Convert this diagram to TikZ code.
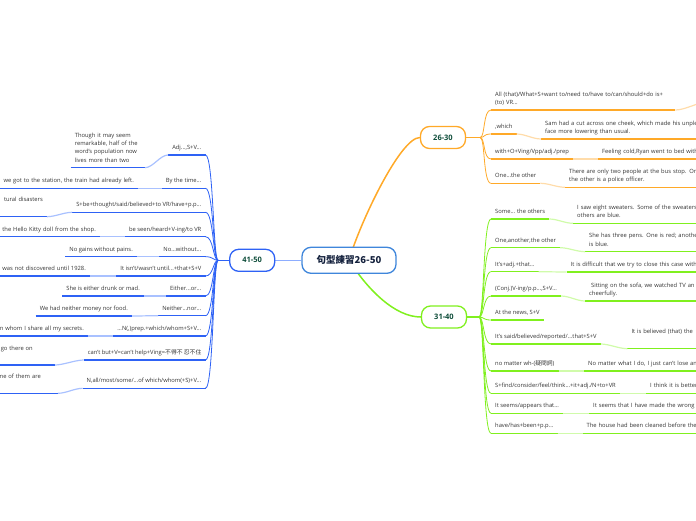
\documentclass[tikz,border=0pt]{standalone}
\usepackage{fontspec}
\setmainfont{Open Sans}
\newfontfamily\cjk{Noto Sans CJK TC}
\usepackage{xcolor}
\usetikzlibrary{positioning, backgrounds}
\definecolor{mmblue}{HTML}{2E62F5}
\definecolor{mmbluelt}{HTML}{A9C1FF}
\definecolor{mmbluemid}{HTML}{8DADFF}
\definecolor{mmorange}{HTML}{FFA928}
\definecolor{mmorangelt}{HTML}{FFDCAA}
\definecolor{mmgreen}{HTML}{80F01E}
\definecolor{mmgreenlt}{HTML}{D0FBAA}
\definecolor{ctrbd}{HTML}{3F86DB}
\definecolor{ctrtxt}{HTML}{14213D}
\definecolor{subtxt}{HTML}{0E4D3A}
\definecolor{leaftxt}{HTML}{333333}
\newcommand{\leaffont}{\fontsize{5.8pt}{8.4pt}\selectfont}
\tikzset{
  root/.style={rectangle, rounded corners=9pt, draw=ctrbd, line width=1.3pt, fill=white,
    text=ctrtxt, font=\cjk\bfseries\fontsize{9.5pt}{11pt}\selectfont,
    minimum width=94pt, minimum height=26pt, inner sep=0pt},
  branch/.style={rectangle, rounded corners=9pt, draw=#1, line width=1.3pt, fill=white,
    text=subtxt, font=\bfseries\fontsize{7.5pt}{9pt}\selectfont,
    minimum width=45pt, minimum height=22pt, inner sep=0pt},
  topic/.style={inner xsep=4pt, inner ysep=3.2pt, text depth=2pt, font=\leaffont, text=leaftxt,
    append after command={(\tikzlastnode.south west) edge[draw=#1, line width=1.5pt] (\tikzlastnode.south east)}},
  topicL/.style={topic=#1, anchor=south east},
  topicR/.style={topic=#1, anchor=south west},
  cutL/.style={text width=220pt, align=right},
  cutR/.style={text width=220pt, align=left},
  twolines/.style={text depth=10.4pt},
  fourlines/.style={text depth=27.2pt},
  deep/.style={text depth=11.5pt},
  trunk/.style={draw=#1, line width=1.5pt},
  stub/.style={draw=#1, line width=1.6pt},
  fork/.style={draw=#1, line width=0.8pt},
  link/.style={draw=#1, line width=1.2pt},
}

\begin{document}
\begin{tikzpicture}[x=1pt, y=-1pt, node distance=26pt]
  \useasboundingbox (0,0) rectangle (696,520);
  \node[root] (ctr) at (349,260.3) {句型練習26-50};
  \node[branch=mmblue, left=of ctr] (n41) {41-50};
  \node[branch=mmorange] (n26) at (443,137.5) {26-30};
  \node[branch=mmgreen] (n31) at (444,317) {31-40};
  \path (n41.west) ++(-11,0) coordinate (j41);
  \path (n26.east) ++(14,0) coordinate (j26);
  \path (n31.east) ++(12,0) coordinate (j31);

  \node[topicL=mmblue] (L1) at (205.5,155) {Adj...,S+V...};
  \node[topicL=mmblue] (L2) at (205.5,188.3) {By the time...};
  \node[topicL=mmblue] (L3) at (205.5,212.3) {S+be+thought/said/believed+to VR/have+p.p...};
  \node[topicL=mmblue] (L4) at (205.5,236.7) {be seen/heard+V-ing/to VR};
  \node[topicL=mmblue] (L5) at (205.5,256.7) {No...without...};
  \node[topicL=mmblue] (L6) at (205.5,276) {It isn't/wasn't until...+that+S+V};
  \node[topicL=mmblue] (L7) at (205.5,296) {Either...or...};
  \node[topicL=mmblue] (L8) at (205.5,315.7) {Neither...nor...};
  \node[topicL=mmblue] (L9) at (205.5,336) {...N(,)prep.+which/whom+S+V...};
  \node[topicL=mmblue] (L10) at (205.5,360) {can't but+V=can't help+Ving={\cjk 不得不 忍不住}};
  \node[topicL=mmblue] (L11) at (205.5,388.3) {N,all/most/some/...of which/whom(+S)+V...};

  \node[topicL=mmblue, text width=66pt, align=left, fourlines] (C1) at (145,167.7) {Though it may seem\\remarkable, half of the\\word's population now\\lives more than two};
  \node[topicL=mmblue, cutL] (C2) at (138,188.3) {we got to the station, the train had already left.};
  \node[topicL=mmblue, cutL, deep] (C3) at (47,216.7) {tural disasters};
  \node[topicL=mmblue, cutL] (C4) at (100,236.7) {l the Hello Kitty doll from the shop.};
  \node[topicL=mmblue] (C5) at (137,256.7) {No gains without pains.};
  \node[topicL=mmblue, cutL] (C6) at (90,276) {was not discovered until 1928.};
  \node[topicL=mmblue] (C7) at (144,296) {She is either drunk or mad.};
  \node[topicL=mmblue] (C8) at (132,316) {We had neither money nor food.};
  \node[topicL=mmblue, cutL] (C9) at (88,336) {n whom I share all my secrets.};
  \node[topicL=mmblue, cutL, deep] (C10) at (55,365) {go there on\hspace*{18pt}};
  \node[topicL=mmblue, cutL, deep] (C11) at (58,393.3) {me of them are\hspace*{13pt}};

  \node[topicR=mmorange, text width=176pt, align=left, twolines] (R1) at (491,110) {All (that)/What+S+want to/need to/have to/can/should+do is+\\(to) VR...};
  \node[topicR=mmorange] (R2) at (491,134) {,which};
  \node[topicR=mmorange] (R3) at (491,159) {with+O+Ving/Vpp/adj./prep};
  \node[topicR=mmorange] (R4) at (491,183.3) {One...the other};
  \coordinate (D1) at (708,102);
  \node[topicR=mmorange, cutR, twolines] (D2) at (541,139) {Sam had a cut across one cheek, which made his unple\\face more lowering than usual.};
  \node[topicR=mmorange, cutR] (D3) at (598,159) {Feeling cold,Ryan went to bed with};
  \node[topicR=mmorange, cutR, twolines] (D4) at (565,187.3) {There are only two people at the bus stop. One\\the other is a police officer.};

  \node[topicR=mmgreen] (G1) at (491,219) {Some... the others};
  \node[topicR=mmgreen] (G2) at (491,247.7) {One,another,the other};
  \node[topicR=mmgreen] (G3) at (491,271.7) {It's+adj.+that...};
  \node[topicR=mmgreen] (G4) at (491,296) {(Conj.)V-ing/p.p...,S+V...};
  \node[topicR=mmgreen] (G5) at (491,320) {At the news, S+V};
  \node[topicR=mmgreen] (G6) at (491,344) {It's said/believed/reported/...that+S+V};
  \node[topicR=mmgreen] (G7) at (491,371) {no matter wh-({\cjk 疑問詞})};
  \node[topicR=mmgreen] (G8) at (491,393.3) {S+find/consider/feel/think...+it+adj./N+to+VR};
  \node[topicR=mmgreen] (G9) at (491,413.3) {It seems/appears that...};
  \node[topicR=mmgreen] (G10) at (491,433.3) {have/has+been+p.p...};
  \node[topicR=mmgreen, cutR, twolines] (H1) at (573,223.3) {I saw eight sweaters. Some of the sweaters\\others are blue.};
  \node[topicR=mmgreen, cutR, twolines] (H2) at (585,251.7) {She has three pens. One is red; another\\is blue.};
  \node[topicR=mmgreen, cutR] (H3) at (566.5,272) {It is difficult that we try to close this case withi};
  \node[topicR=mmgreen, cutR, twolines] (H4) at (585,301) {\ Sitting on the sofa, we watched TV an\\cheerfully.};
  \node[topicR=mmgreen, cutR, deep] (H6) at (627.3,348.7) {It is believed (that) the};
  \node[topicR=mmgreen, cutR] (H7) at (584,371) {No matter what I do, I just can't lose an};
  \node[topicR=mmgreen, cutR] (H8) at (646,393.3) {I think it is better};
  \node[topicR=mmgreen, cutR] (H9) at (589,413.3) {It seems that I have made the wrong};
  \node[topicR=mmgreen, cutR] (H10) at (582.5,433.3) {The house had been cleaned before the};

  \begin{scope}[on background layer]
    \draw[trunk=mmbluemid] (ctr) -- (n41);
    \draw[trunk=mmorange] (ctr.center) .. controls (359,225) and (400,137.5) .. (n26.west);
    \draw[trunk=mmgreen] (ctr.center) .. controls (368,290) and (395,317) .. (n31.west);
  \end{scope}

  \draw[stub=mmblue] (n41.west) -- (j41);
  \draw[fork=mmblue] (j41) .. controls +(-5,0) and +(8,0) .. (L1.south east);
  \draw[fork=mmblue] (j41) .. controls +(-5,0) and +(8,0) .. (L2.south east);
  \draw[fork=mmblue] (j41) .. controls +(-5,0) and +(8,0) .. (L3.south east);
  \draw[fork=mmblue] (j41) .. controls +(-5,0) and +(8,0) .. (L4.south east);
  \draw[fork=mmblue] (j41) .. controls +(-5,0) and +(8,0) .. (L5.south east);
  \draw[fork=mmblue] (j41) .. controls +(-5,0) and +(8,0) .. (L6.south east);
  \draw[fork=mmblue] (j41) .. controls +(-5,0) and +(8,0) .. (L7.south east);
  \draw[fork=mmblue] (j41) .. controls +(-5,0) and +(8,0) .. (L8.south east);
  \draw[fork=mmblue] (j41) .. controls +(-5,0) and +(8,0) .. (L9.south east);
  \draw[fork=mmblue] (j41) .. controls +(-5,0) and +(8,0) .. (L10.south east);
  \draw[fork=mmblue] (j41) .. controls +(-5,0) and +(8,0) .. (L11.south east);

  \draw[link=mmbluelt] (C1.south east) .. controls +(8,0) and +(-8,0) .. (L1.south west);
  \draw[link=mmbluelt] (C2.south east) .. controls +(8,0) and +(-8,0) .. (L2.south west);
  \draw[link=mmbluelt] (C3.south east) .. controls +(8,0) and +(-8,0) .. (L3.south west);
  \draw[link=mmbluelt] (C4.south east) .. controls +(8,0) and +(-8,0) .. (L4.south west);
  \draw[link=mmbluelt] (C5.south east) .. controls +(8,0) and +(-8,0) .. (L5.south west);
  \draw[link=mmbluelt] (C6.south east) .. controls +(8,0) and +(-8,0) .. (L6.south west);
  \draw[link=mmbluelt] (C7.south east) .. controls +(8,0) and +(-8,0) .. (L7.south west);
  \draw[link=mmbluelt] (C8.south east) .. controls +(8,0) and +(-8,0) .. (L8.south west);
  \draw[link=mmbluelt] (C9.south east) .. controls +(8,0) and +(-8,0) .. (L9.south west);
  \draw[link=mmbluelt] (C10.south east) .. controls +(8,0) and +(-8,0) .. (L10.south west);
  \draw[link=mmbluelt] (C11.south east) .. controls +(8,0) and +(-8,0) .. (L11.south west);

  \draw[stub=mmorange] (n26.east) -- (j26);
  \draw[fork=mmorange] (j26) .. controls +(5,0) and +(-8,0) .. (R1.south west);
  \draw[fork=mmorange] (j26) .. controls +(5,0) and +(-8,0) .. (R2.south west);
  \draw[fork=mmorange] (j26) .. controls +(5,0) and +(-8,0) .. (R3.south west);
  \draw[fork=mmorange] (j26) .. controls +(5,0) and +(-8,0) .. (R4.south west);
  \draw[link=mmorangelt] (R1.south east) .. controls +(10,0) and +(-10,0) .. (D1);
  \draw[link=mmorangelt] (R2.south east) .. controls +(8,0) and +(-8,0) .. (D2.south west);
  \draw[link=mmorangelt] (R3.south east) .. controls +(8,0) and +(-8,0) .. (D3.south west);
  \draw[link=mmorangelt] (R4.south east) .. controls +(8,0) and +(-8,0) .. (D4.south west);

  \draw[stub=mmgreen] (n31.east) -- (j31);
  \draw[fork=mmgreen] (j31) .. controls +(5,0) and +(-8,0) .. (G1.south west);
  \draw[fork=mmgreen] (j31) .. controls +(5,0) and +(-8,0) .. (G2.south west);
  \draw[fork=mmgreen] (j31) .. controls +(5,0) and +(-8,0) .. (G3.south west);
  \draw[fork=mmgreen] (j31) .. controls +(5,0) and +(-8,0) .. (G4.south west);
  \draw[fork=mmgreen] (j31) .. controls +(5,0) and +(-8,0) .. (G5.south west);
  \draw[fork=mmgreen] (j31) .. controls +(5,0) and +(-8,0) .. (G6.south west);
  \draw[fork=mmgreen] (j31) .. controls +(5,0) and +(-8,0) .. (G7.south west);
  \draw[fork=mmgreen] (j31) .. controls +(5,0) and +(-8,0) .. (G8.south west);
  \draw[fork=mmgreen] (j31) .. controls +(5,0) and +(-8,0) .. (G9.south west);
  \draw[fork=mmgreen] (j31) .. controls +(5,0) and +(-8,0) .. (G10.south west);
  \draw[link=mmgreenlt] (G1.south east) .. controls +(8,0) and +(-8,0) .. (H1.south west);
  \draw[link=mmgreenlt] (G2.south east) .. controls +(8,0) and +(-8,0) .. (H2.south west);
  \draw[link=mmgreenlt] (G3.south east) .. controls +(8,0) and +(-8,0) .. (H3.south west);
  \draw[link=mmgreenlt] (G4.south east) .. controls +(8,0) and +(-8,0) .. (H4.south west);
  \draw[link=mmgreenlt] (G6.south east) .. controls +(8,0) and +(-8,0) .. (H6.south west);
  \draw[link=mmgreenlt] (G7.south east) .. controls +(8,0) and +(-8,0) .. (H7.south west);
  \draw[link=mmgreenlt] (G8.south east) .. controls +(8,0) and +(-8,0) .. (H8.south west);
  \draw[link=mmgreenlt] (G9.south east) .. controls +(8,0) and +(-8,0) .. (H9.south west);
  \draw[link=mmgreenlt] (G10.south east) .. controls +(8,0) and +(-8,0) .. (H10.south west);
\end{tikzpicture}
\end{document}
